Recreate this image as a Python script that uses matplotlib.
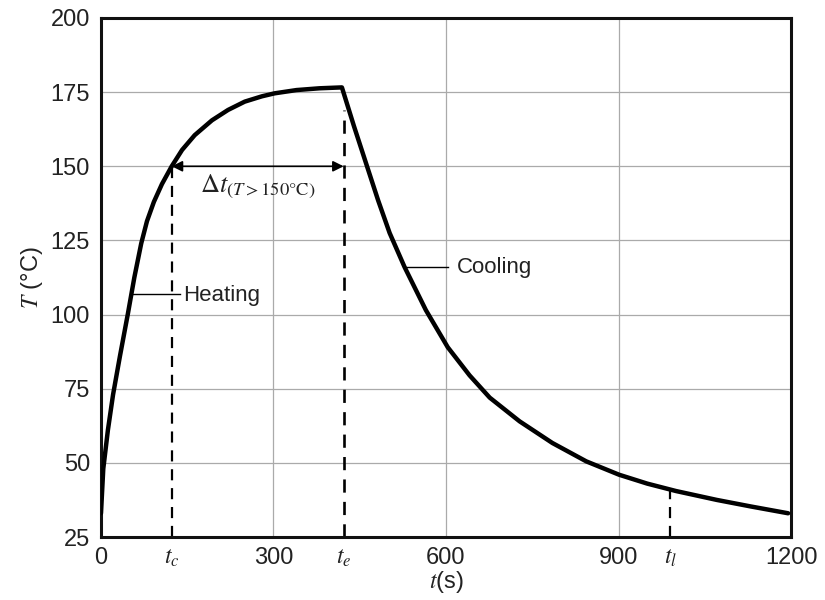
import numpy as np
import matplotlib
matplotlib.use("Agg")
import matplotlib.pyplot as plt

heat_t = [0, 4, 12, 21, 33, 47, 58, 70, 80, 92, 106, 123, 141, 163, 193, 221, 250, 280, 302, 340, 380, 419]
heat_T = [33, 48, 61, 73, 86, 100.5, 112.5, 124, 131.5, 138, 144, 150, 155.5, 160.5, 165.5, 169, 171.8, 173.6, 174.6, 175.7, 176.3, 176.6]
cool_t = [419, 440, 462, 482, 502, 528, 565, 603, 641, 676, 728, 785, 844, 901, 950, 1000, 1071, 1130, 1195]
cool_T = [176.6, 163.5, 150.4, 138.5, 127.5, 116, 101.5, 89, 79.5, 72, 64, 56.7, 50.5, 46, 43, 40.5, 37.5, 35.3, 33]

T_C, T_E, T_L = 123, 422, 990
TL_TOP = 40.5
TE_TOP = 169

x_major = [0, 300, 600, 900, 1200]
y_major = [25, 50, 75, 100, 125, 150, 175, 200]
x_special = [T_C, T_E, T_L]
special_labels = [r"$t_c$", r"$t_e$", r"$t_l$"]

plt.rcParams["font.family"] = ["Liberation Sans", "DejaVu Sans"]
plt.rcParams["mathtext.fontset"] = "stix"

fig = plt.figure(figsize=(8.25, 6), dpi=100)
ax = fig.add_axes([0.1224, 0.105, 0.8364, 0.865])

ax.set_xlim(0, 1200)
ax.set_ylim(25, 200)
ax.set_xticks(x_major)
ax.set_xticklabels([str(v) for v in x_major])
ax.set_xticks(x_special, minor=True)
ax.set_xticklabels(special_labels, minor=True, fontsize=19)
ax.set_yticks(y_major)
ax.tick_params(axis="both", which="both", length=0, labelsize=17, colors="#222222")
ax.tick_params(axis="x", which="both", pad=7)
ax.tick_params(axis="y", pad=8)
ax.grid(True, which="major", color="#aaaaaa", lw=0.9)
for s in ax.spines.values():
    s.set_linewidth(2.2)
    s.set_color("#111111")

ax.plot(heat_t + cool_t[1:], heat_T + cool_T[1:], color="k", lw=3.2,
        solid_joinstyle="round", solid_capstyle="round", zorder=5)

# dashed markers
dash = (0, (5, 3.5))
ax.plot([T_C, T_C], [25, 150], color="k", lw=1.6, ls=dash)
ax.plot([T_E, T_E], [25, TE_TOP], color="k", lw=1.9, ls=dash)
ax.plot([T_L, T_L], [25, TL_TOP], color="k", lw=1.6, ls=dash)

ax.annotate("", xy=(T_C, 150), xytext=(T_E, 150),
            arrowprops=dict(arrowstyle="<|-|>", color="k", lw=1.2,
                            mutation_scale=16, shrinkA=0, shrinkB=0))
ax.text(172, 143, r"$\Delta t_{(T>150\degree\mathrm{C})}$", fontsize=19,
        ha="left", va="center", color="#222222")

# leaders
ax.plot([54, 137], [107, 107], color="k", lw=1.0)
ax.text(142, 106.5, "Heating", fontsize=16, ha="left", va="center", color="#222222")
ax.plot([529, 603], [116, 116], color="k", lw=1.0)
ax.text(619, 116, "Cooling", fontsize=16, ha="left", va="center", color="#222222")

ax.set_xlabel(r"$t$(s)", fontsize=17, color="#222222", labelpad=0)
ax.set_ylabel(r"$T$ (°C)", fontsize=17, color="#222222", labelpad=4)

fig.savefig("out.png", dpi=100)
